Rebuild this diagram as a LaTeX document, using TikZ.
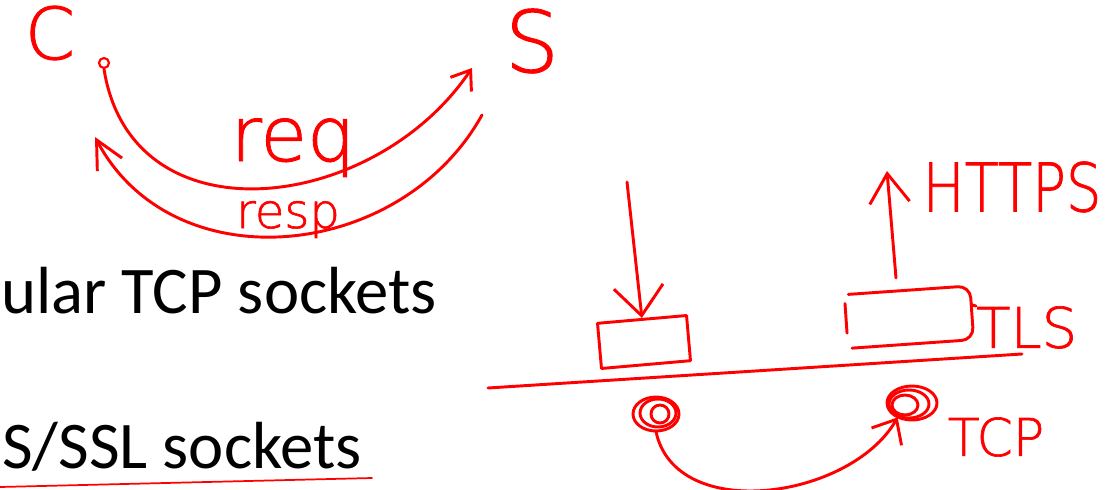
\documentclass[tikz,border=0pt]{standalone}
\usepackage{fontspec}
\setmainfont{Carlito}
\newfontfamily\handfont[FakeBold=1.2]{DejaVu Sans ExtraLight}
\usetikzlibrary{arrows.meta,calc,positioning,shapes.geometric}

\begin{document}
\begin{tikzpicture}[x=0.75pt, y=-0.75pt,
    pen/.style={draw=red, line width=2.2pt, line cap=round, line join=round},
    hand/.style={text=red, inner sep=0pt, font=\handfont\fontsize{#1}{#1}\selectfont},
    slide/.style={text=black, inner sep=0pt, anchor=base west, font=\fontsize{50}{56}\selectfont},
    barb/.style 2 args={-{Straight Barb[length=#1, width=#2]}}]
\useasboundingbox (0,0) rectangle (1105,489);
% slide text
\node[slide] (tcpline) at (1,313) {ular TCP sockets};
\node[slide] (tlsline) at (2,468) {S/SSL sockets};
\coordinate (ul0) at (0,487);
\coordinate (ul1) at (372,478);
\draw[pen, line width=1.3pt] (ul0) -- (ul1);
% client and server
\node[hand=54] (cl) at (50,33) {C};
\node[hand=64] (sv) at (532,41) {S};
\node[circle, draw=red, line width=1.6pt, minimum size=7.5pt, inner sep=0pt] (cpt) at (104,63) {};
\coordinate (sin) at (472,68);
\coordinate (sout) at (482,115);
\coordinate (cin) at (95,137);
\draw[pen, barb={13pt}{19pt}] (cpt.south) to[out=-81, in=-124, looseness=1.22] (sin);
\draw[pen, barb={21pt}{21pt}] (sout) to[out=-119, in=-62, looseness=1.1] (cin);
\node[hand=57, anchor=base] (req) at (293,161) {req};
\node[hand=36, anchor=base] (resp) at (288,228) {resp};
% layers
\node[pen, minimum width=67pt, minimum height=34pt, rotate=5] (lbox) at (644,342) {};
\node[minimum width=91pt, minimum height=40pt, rotate=4] (rbox) at (911,317) {};
\draw[pen, rounded corners=9pt] (rbox.north west) -- (rbox.north east) -- (rbox.south east) -- (rbox.south west);
\draw[pen] ($(rbox.north west)!0.17!(rbox.south west)+(-4,0)$) -- ($(rbox.north west)!0.72!(rbox.south west)+(-4,0)$);
\node[hand=42, anchor=north west] (tls) at (976,306) {TLS};
\draw[pen] ($(rbox.north east)!0.35!(rbox.south east)$) -- (tls.north west);
\node[hand=42, yscale=1.2, transform shape] (https) at (1012,187) {HTTPS};
\coordinate (up0) at (896,278);
\coordinate (up1) at (887,171);
\draw[pen, barb={22pt}{30pt}] (up0) -- (up1);
\coordinate (dn0) at (627,182);
\draw[pen, barb={22pt}{37pt}] (dn0) -- (lbox.north);
\coordinate (gl0) at (488,388);
\coordinate (gl1) at (1022,354);
\draw[pen] (gl0) -- (gl1);
% tcp connection
\node[ellipse, minimum width=34pt, minimum height=26pt, inner sep=0pt] (sp1) at (656,414) {};
\node[ellipse, minimum width=37pt, minimum height=26pt, inner sep=0pt] (sp2) at (912,403) {};
\foreach \a/\b/\dx/\dy in {23/17/0/0, 18/14/2/-1, 9/9/4/0}
  \draw[pen] ([shift={(\dx,\dy)}]sp1.center) ellipse[x radius=\a*0.75pt, y radius=\b*0.75pt];
\foreach \a/\b/\dx/\dy in {25/17/0/0, 20/14/-3/1, 13/10/-7/2}
  \draw[pen] ([shift={(\dx,\dy)}]sp2.center) ellipse[x radius=\a*0.75pt, y radius=\b*0.75pt];
\draw[pen, barb={15pt}{26pt}] (sp1.south) to[out=-78, in=-120] (sp2.225);
\node[hand=39] (tcp) at (996,437) {TCP};
\end{tikzpicture}
\end{document}
